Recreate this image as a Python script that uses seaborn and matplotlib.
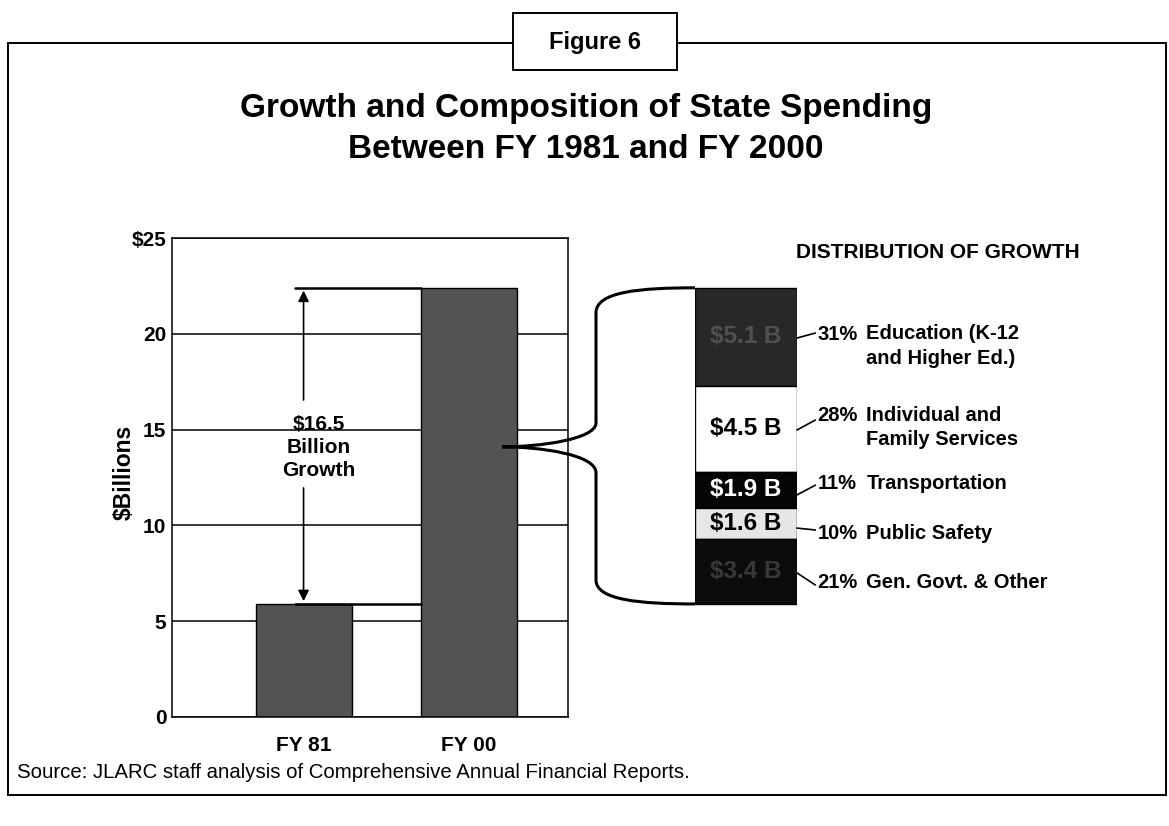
import numpy as np
import pandas as pd
import seaborn as sns
import matplotlib.pyplot as plt
from matplotlib.path import Path
from matplotlib.patches import PathPatch, Rectangle
import matplotlib.transforms as mtransforms

# Data
years = ["FY 81", "FY 00"]
spending = [5.9, 22.4]  # $ billions

# growth components, top of stack first
categories = ["Education (K-12\nand Higher Ed.)", "Individual and\nFamily Services",
              "Transportation", "Public Safety", "Gen. Govt. & Other"]
growth = [5.1, 4.5, 1.9, 1.6, 3.4]
shares = [31, 28, 11, 10, 21]
seg_labels = ["$5.1 B", "$4.5 B", "$1.9 B", "$1.6 B", "$3.4 B"]

yticks = [0, 5, 10, 15, 20, 25]
ytick_labels = ["0", "5", "10", "15", "20", "$25"]

# styling for stack segments (same order as above)
seg_colors = ["#282828", "#ffffff", "#050505", "#e6e6e6", "#0c0c0c"]
seg_text_colors = ["#505050", "black", "white", "black", "#383838"]
label_y = [19.36, 15.11, 12.21, 9.6, 7.0]     # centre of right-hand labels
leader_from = [19.78, 14.98, 11.59, 9.86, 7.52]  # leader start on bar edge
leader_to = [20.04, 15.5, 12.1, 9.76, 6.89]      # leader end near label

sns.set_style("white")
plt.rcParams['font.family'] = ['Liberation Sans', 'DejaVu Sans']
plt.rcParams['text.color'] = 'black'
plt.rcParams['axes.labelcolor'] = 'black'
plt.rcParams['xtick.color'] = 'black'
plt.rcParams['ytick.color'] = 'black'

W, H = 1169, 826
fig = plt.figure(figsize=(W / 100, H / 100), dpi=100)

# outer frame and "Figure 6" tab
fig.patches.append(Rectangle((8 / W, 1 - 795 / H), 1158 / W, (795 - 43) / H,
                             transform=fig.transFigure, fill=False, ec="black", lw=1.4))
fig.patches.append(Rectangle((513 / W, 1 - 70 / H), 164 / W, 57 / H,
                             transform=fig.transFigure, fc="white", ec="black", lw=1.4, zorder=3))
fig.text(595 / W, 1 - 42 / H, "Figure 6", ha="center", va="center",
         fontsize=17, fontweight="bold", zorder=4)

fig.text(586 / W, 1 - 108 / H, "Growth and Composition of State Spending",
         ha="center", va="center", fontsize=24, fontweight="bold")
fig.text(586 / W, 1 - 149 / H, "Between FY 1981 and FY 2000",
         ha="center", va="center", fontsize=24, fontweight="bold")

# main bar chart
bar_w = 0.58
ax = fig.add_axes([172 / W, 1 - 717 / H, 396 / W, 479 / H])
df = pd.DataFrame({"year": years, "spending": spending})
sns.barplot(data=df, x="year", y="spending", ax=ax, color="#535353",
            width=bar_w, edgecolor="black", linewidth=1, saturation=1)
ax.set_xlim(-0.795, 1.598)
ax.set_ylim(0, 25)
ax.set_yticks(yticks)
ax.set_yticklabels(ytick_labels, fontsize=15, fontweight="bold")
ax.set_xticks(range(len(years)))
ax.set_xticklabels(years, fontsize=15, fontweight="bold")
ax.tick_params(axis="y", length=0, pad=4)
ax.tick_params(axis="x", length=0, pad=14)
ax.yaxis.grid(True, color="black", lw=1.1)
ax.set_axisbelow(True)
for s in ax.spines.values():
    s.set_visible(True)
    s.set_color("black")
    s.set_linewidth(1.1)
ax.set_xlabel("")
ax.set_ylabel("$Billions", fontsize=16.5, fontweight="bold")
ax.yaxis.set_label_coords(-0.092, 0.51)

# growth bracket
ax.plot([-0.05, 1 - bar_w / 2], [spending[1]] * 2, color="black", lw=1.8)
ax.plot([-0.05, 1 - bar_w / 2], [spending[0]] * 2, color="black", lw=1.8)
diff = spending[1] - spending[0]
mid = (spending[0] + spending[1]) / 2
ax.annotate("", xy=(0, spending[1]), xytext=(0, mid + 2.25),
            arrowprops=dict(arrowstyle="-|>", color="black", lw=1.2, mutation_scale=16))
ax.annotate("", xy=(0, spending[0]), xytext=(0, mid - 2.05),
            arrowprops=dict(arrowstyle="-|>", color="black", lw=1.2, mutation_scale=16))
ax.text(0.09, mid - 0.1, f"${diff:.1f}\nBillion\nGrowth", ha="center", va="center",
        fontsize=15, fontweight="bold", linespacing=1.26)

# distribution of growth stack
ax2 = fig.add_axes([695 / W, 1 - 717 / H, 102 / W, 479 / H], sharey=ax)
ax2.set_xlim(-0.5, 0.5)
ax2.axis("off")
bottoms = spending[0] + np.concatenate([[0], np.cumsum(growth[::-1])[:-1]])[::-1]
for i in range(len(growth)):
    ax2.bar(0, growth[i], bottom=bottoms[i], width=1, color=seg_colors[i],
            edgecolor="black", linewidth=1)
    ax2.text(0, bottoms[i] + growth[i] / 2, seg_labels[i], ha="center", va="center",
             fontsize=17.5, fontweight="bold", color=seg_text_colors[i])
    ax2.plot([0.5, 0.68], [leader_from[i], leader_to[i]], color="black", lw=1.2,
             clip_on=False)
    two_lines = "\n" in categories[i]
    ax2.text(0.70, label_y[i] + (0.61 if two_lines else 0), f"{shares[i]}%",
             ha="left", va="center", fontsize=14.5, fontweight="bold", clip_on=False)
    ax2.text(1.18, label_y[i], categories[i], ha="left", va="center",
             fontsize=14.5, fontweight="bold", linespacing=1.38, clip_on=False)

fig.text(938 / W, 1 - 253 / H, "DISTRIBUTION OF GROWTH", ha="center", va="center",
         fontsize=15, fontweight="bold")

# brace linking FY 00 bar to the stack
tr = mtransforms.blended_transform_factory(fig.transFigure, ax.transData)
xt, xv, xr = 502 / W, 596 / W, 695 / W
top, bot = spending[1], spending[0]
tip = mid - 0.05
verts = [(xr, top), (640 / W, top), (xv, top - 0.2), (xv, top - 1.3),
         (xv, tip + 1.25),
         (xv, tip + 0.4), (540 / W, tip), (xt, tip),
         (540 / W, tip), (xv, tip - 0.4), (xv, tip - 1.35),
         (xv, bot + 1.25),
         (xv, bot + 0.2), (640 / W, bot), (xr, bot)]
codes = [Path.MOVETO, Path.CURVE4, Path.CURVE4, Path.CURVE4,
         Path.LINETO,
         Path.CURVE4, Path.CURVE4, Path.CURVE4,
         Path.CURVE4, Path.CURVE4, Path.CURVE4,
         Path.LINETO,
         Path.CURVE4, Path.CURVE4, Path.CURVE4]
fig.patches.append(PathPatch(Path(verts, codes), transform=tr, fill=False,
                             ec="black", lw=2.2, zorder=5))

fig.text(17 / W, 1 - 773 / H,
         "Source: JLARC staff analysis of Comprehensive Annual Financial Reports.",
         ha="left", va="center", fontsize=14.7)

plt.savefig("out.png", dpi=100)
